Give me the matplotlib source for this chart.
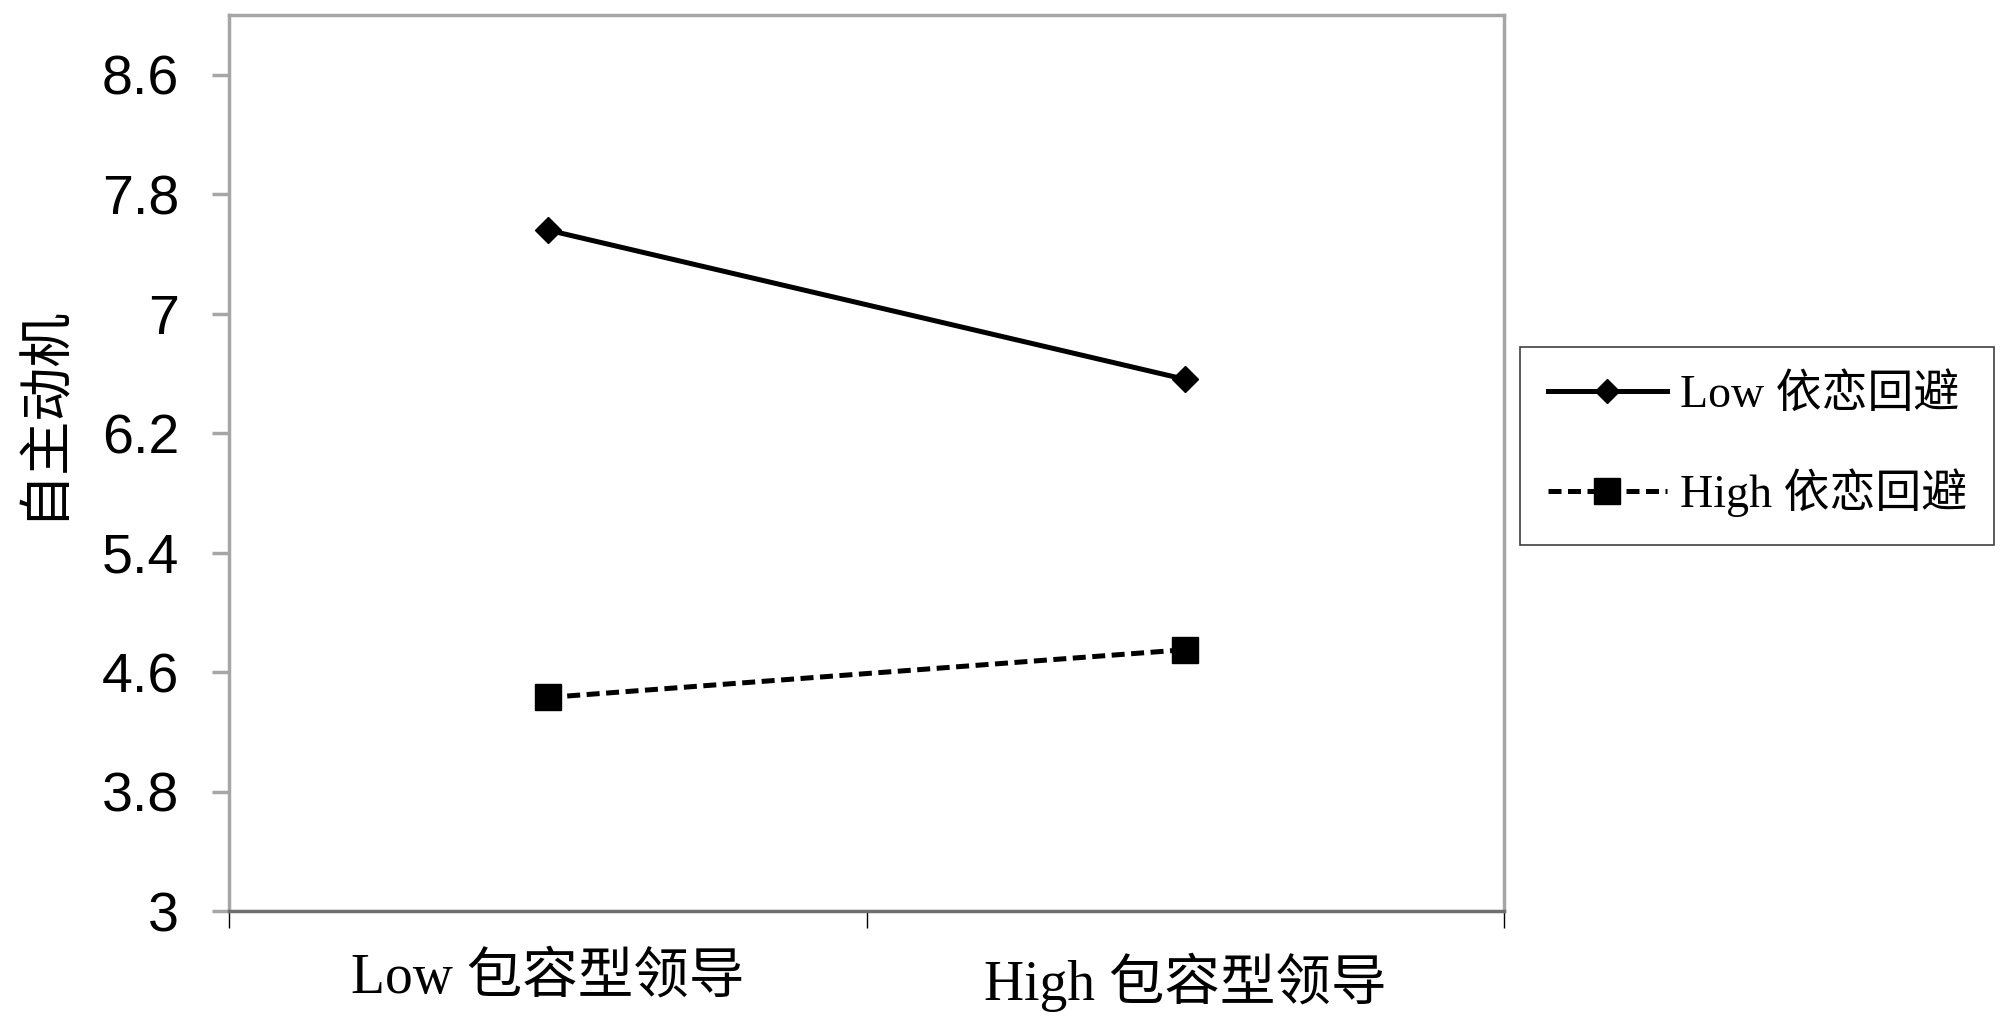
import matplotlib
matplotlib.use("Agg")
import matplotlib.pyplot as plt

# data
x_labels = ["Low 包容型领导", "High 包容型领导"]
series_names = ["Low 依恋回避", "High 依恋回避"]
low_avoid = [7.56, 6.56]
high_avoid = [4.43, 4.75]
y_ticks = [3, 3.8, 4.6, 5.4, 6.2, 7, 7.8, 8.6]

serif_cjk = ["Liberation Serif", "Noto Sans CJK SC"]
plt.rcParams["font.family"] = ["Liberation Sans", "Noto Sans CJK SC"]

fig = plt.figure(figsize=(20, 10.28), dpi=100)
ax = fig.add_axes([0.1145, 0.1138, 0.6375, 0.8716])

pos = [0.5, 1.5]
ax.plot(pos, low_avoid, color="black", lw=3.6, marker="D", ms=13.7,
        label=series_names[0])
ax.plot(pos, high_avoid, color="black", lw=3.6, marker="s", ms=19.4,
        dashes=(2.6, 1.3), label=series_names[1])

ax.set_xlim(0, 2)
ax.set_ylim(3, 9)
ax.set_yticks(y_ticks)
ax.set_yticklabels([("%g" % v) for v in y_ticks])

# category axis: tick marks between categories, labels at centres
ax.set_xticks([0, 1, 2])
ax.set_xticklabels([])
ax.set_xticks(pos, minor=True)
ax.set_xticklabels(x_labels, minor=True, fontsize=40, family=serif_cjk)
ax.tick_params(axis="x", which="major", direction="out", length=12,
               width=1, color="black")
ax.tick_params(axis="x", which="minor", length=0, pad=30)
ax.tick_params(axis="y", direction="out", length=12, width=2.5,
               color="#a6a6a6", labelsize=40, pad=24)

for side in ["left", "top", "right"]:
    ax.spines[side].set_color("#a6a6a6")
    ax.spines[side].set_linewidth(2.5)
ax.spines["bottom"].set_color("#6e6e6e")
ax.spines["bottom"].set_linewidth(2.5)

ax.set_ylabel("自主动机", fontsize=39, family=["Noto Sans CJK SC"])
ax.yaxis.label.set_va("center")
ax.yaxis.set_label_coords(-0.1467, 0.557)

leg = fig.legend(loc="upper left", bbox_to_anchor=(0.76, 0.6625),
                 borderaxespad=0, prop={"family": serif_cjk, "size": 33},
                 handlelength=2.6, handletextpad=0.28, labelspacing=1.12,
                 borderpad=0.6, fancybox=False, edgecolor="#404040",
                 framealpha=1)
leg.get_frame().set_linewidth(1.2)
for h, ms in zip(leg.legend_handles, [12.5, 19.4]):
    h.set_markersize(ms)

fig.savefig("out.png", dpi=100, facecolor="white")
